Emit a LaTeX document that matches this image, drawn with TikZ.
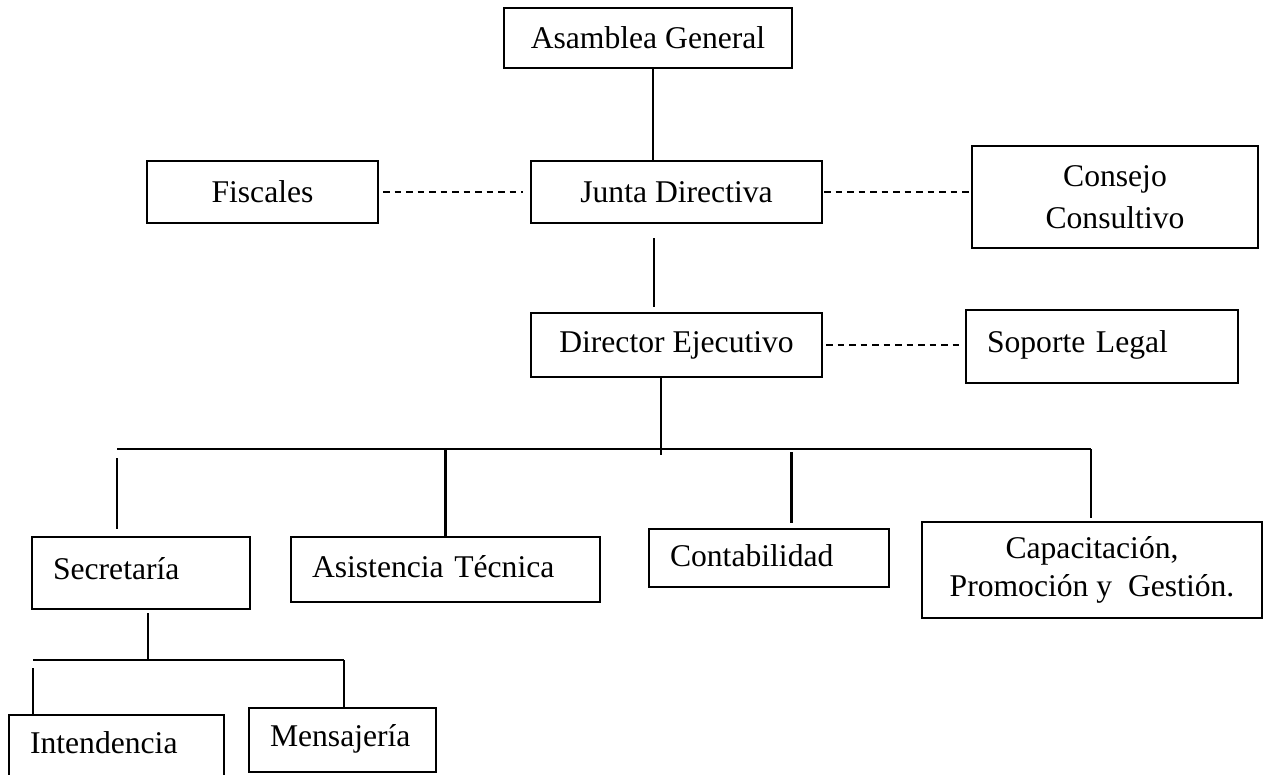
\documentclass[tikz,border=0pt]{standalone}
\usepackage{fontspec}
\setmainfont{Liberation Serif}
\newcommand*{\chartfont}{\fontsize{18}{24}\selectfont}
\usepackage{tikz}
\usetikzlibrary{positioning}
\tikzstyle{base}=[inner sep=0pt, outer sep=0pt]
\tikzstyle{box}=[draw, black, line width=1.15pt, inner sep=0pt, align=center]
\tikzstyle{lbox}=[draw, black, line width=1.15pt, inner xsep=0.42cm, inner ysep=0pt, align=left, text height=0.45cm, text depth=0.2cm]
\tikzstyle{link}=[black, line width=1.15pt]
\tikzstyle{dashlink}=[black, line width=1.15pt, dash pattern=on 0.13cm off 0.1cm]

\begin{document}
\begin{tikzpicture}[base]
    \chartfont
    \useasboundingbox (0,0) rectangle (25.28,-15.5);
        % top levels
        \node [box, minimum width=5.76cm, minimum height=1.2cm] (asamblea) at (12.96,-0.76) {Asamblea General};
        \node [box, minimum width=5.82cm, minimum height=1.24cm] (junta) at (13.53,-3.84) {Junta Directiva};
        \node [box, minimum width=4.62cm, minimum height=1.24cm] (fiscales) at (5.25,-3.84) {Fiscales};
        \node [box, minimum width=5.72cm, minimum height=2.04cm] (consejo) at (22.3,-3.94) {Consejo\\Consultivo};
        \node [box, minimum width=5.82cm, minimum height=1.28cm] (director) at (13.53,-6.9) {Director Ejecutivo};
        \node [lbox, text width=4.6cm, minimum height=1.46cm] (soporte) at (22.04,-6.93) {Soporte Legal};
        % departments
        \node [lbox, text width=3.52cm, minimum height=1.44cm] (secretaria) at (2.82,-11.46) {Secretaría};
        \node [lbox, text width=5.34cm, minimum height=1.3cm, text height=0.5cm] (asistencia) at (8.91,-11.39) {Asistencia Técnica};
        \node [lbox, text width=3.96cm, minimum height=1.16cm, text height=0.55cm] (contabilidad) at (15.38,-11.16) {Contabilidad};
        \node [box, minimum width=6.8cm, minimum height=1.92cm, font=\fontsize{18}{22}\selectfont] (capacitacion) at (21.84,-11.4) {Capacitación,\\Promoción y~ Gestión.};
        \node [lbox, text width=3.46cm, minimum height=1.3cm] (intendencia) at (2.33,-14.95) {Intendencia};
        \node [lbox, text width=2.9cm, minimum height=1.28cm] (mensajeria) at (6.85,-14.8) {Mensajería};
        % solid links
        \draw [link] ([xshift=0.1cm]asamblea.south) -- ([xshift=0.1cm]asamblea.south |- junta.north);
        \draw [link, shorten <=0.3cm, shorten >=0.12cm] ([xshift=-0.45cm]junta.south) -- ([xshift=-0.45cm]director.north);
        \coordinate (barL) at (2.34,-8.98);
        \coordinate (barR) at (21.82,-8.98);
        \coordinate (dirfoot) at ([xshift=-0.31cm]director.south);
        \draw [link] (dirfoot) -- ([yshift=-0.12cm]dirfoot |- barL);
        \draw [link] (barL) -- (barR);
        \draw [link, shorten <=0.18cm, shorten >=0.16cm] (barL) -- (barL |- secretaria.north);
        \draw [link] (asistencia.north |- barL) -- (asistencia.north);
        \draw [link, shorten <=0.06cm, shorten >=0.12cm] ([xshift=0.45cm]contabilidad.north |- barL) -- ([xshift=0.45cm]contabilidad.north);
        \draw [link, shorten >=0.08cm] (barR) -- (barR |- capacitacion.north);
        % secretaria branch
        \coordinate (subL) at (0.66,-13.2);
        \coordinate (subR) at (6.88,-13.2);
        \draw [link, shorten <=0.08cm] ([xshift=0.14cm]secretaria.south) -- ([xshift=0.14cm]secretaria.south |- subL);
        \draw [link] (subL) -- (subR);
        \draw [link, shorten <=0.16cm] (subL) -- (subL |- intendencia.north);
        \draw [link] (subR) -- (subR |- mensajeria.north);
        % dashed links
        \draw [dashlink, shorten <=0.1cm, shorten >=0.16cm] (fiscales) -- (junta);
        \draw [dashlink, shorten <=0.04cm] (junta.east) -- (junta.east -| consejo.west);
        \draw [dashlink, shorten <=0.08cm, shorten >=0.06cm] (director.east) -- (director.east -| soporte.west);
    \end{tikzpicture}
\end{document}
